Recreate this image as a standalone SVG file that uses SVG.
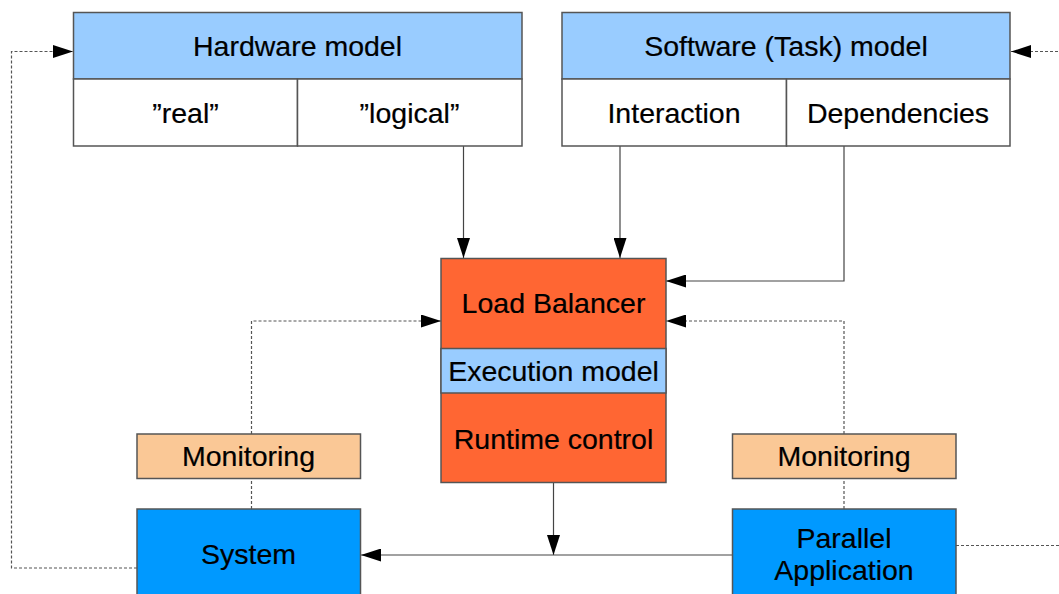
<svg xmlns="http://www.w3.org/2000/svg" width="1059" height="594" viewBox="0 0 1059 594">
  <defs>
    <marker id="arrow" markerUnits="userSpaceOnUse" markerWidth="20" markerHeight="13" refX="20" refY="6.5" orient="auto">
      <path d="M0,0 L20,6.5 L0,13 z" fill="#000"/>
    </marker>
    <style>
      text { font-family: "Liberation Sans", Arial, sans-serif; font-size: 28.5px; fill: #000; stroke: #000; stroke-width: 0.2; text-anchor: middle; }
      .box { stroke: #555; stroke-width: 1.5; }
      .header { fill: #99ccff; }
      .cell { fill: #ffffff; }
      .lb { fill: #ff6633; }
      .mon { fill: #fac896; }
      .actor { fill: #0099ff; }
      .solid { fill: none; stroke: #444; stroke-width: 1.2; }
      .dash { fill: none; stroke: #555; stroke-width: 1.2; stroke-dasharray: 3 2; }
    </style>
  </defs>
  <rect width="1059" height="594" fill="#fff"/>

  <!-- connectors -->
  <g id="connectors">
    <path class="solid" d="M463.5,146 V258" marker-end="url(#arrow)"/>
    <path class="solid" d="M620,146 V258" marker-end="url(#arrow)"/>
    <path class="solid" d="M844,146 V281 H666" marker-end="url(#arrow)"/>
    <path class="solid" d="M553.5,482 V555" marker-end="url(#arrow)"/>
    <path class="solid" d="M732,555 H361" marker-end="url(#arrow)"/>
    <path class="dash" d="M251.5,434 V321 H441" marker-end="url(#arrow)"/>
    <path class="dash" d="M251.5,509 V478"/>
    <path class="dash" d="M844,434 V321 H666" marker-end="url(#arrow)"/>
    <path class="dash" d="M844,509 V478"/>
    <path class="dash" d="M137,568 H11.5 V51.5 H73" marker-end="url(#arrow)"/>
    <path class="dash" d="M956,545.5 H1075 V51.5 H1011" marker-end="url(#arrow)"/>
  </g>

  <!-- hardware model -->
  <g id="hardware-model">
    <rect class="box header" x="73.5" y="12.5" width="448.5" height="66.5"/>
    <rect class="box cell" x="73.5" y="79" width="224" height="67"/>
    <rect class="box cell" x="297.5" y="79" width="224.5" height="67"/>
    <text x="297.5" y="55.5">Hardware model</text>
    <text x="185.5" y="122.5">”real”</text>
    <text x="409.5" y="122.5">”logical”</text>
  </g>

  <!-- software (task) model -->
  <g id="software-model">
    <rect class="box header" x="562" y="12.5" width="448" height="66.5"/>
    <rect class="box cell" x="562" y="79" width="224.5" height="67"/>
    <rect class="box cell" x="786.5" y="79" width="223.5" height="67"/>
    <text x="786" y="55.5">Software (Task) model</text>
    <text x="674" y="122.5">Interaction</text>
    <text x="898" y="122.5">Dependencies</text>
  </g>

  <!-- load balancer -->
  <g id="load-balancer">
    <rect class="box lb" x="441" y="258.5" width="225" height="224"/>
    <rect class="box header" x="441" y="348.5" width="225" height="44.5"/>
    <text x="553.5" y="312.5">Load Balancer</text>
    <text x="553.5" y="380.5">Execution model</text>
    <text x="553.5" y="448.5">Runtime control</text>
  </g>

  <!-- monitoring -->
  <g id="monitoring-system">
    <rect class="box mon" x="137" y="434" width="223.5" height="44.5"/>
    <text x="248.5" y="465.5">Monitoring</text>
  </g>
  <g id="monitoring-application">
    <rect class="box mon" x="732.5" y="434" width="223.5" height="44.5"/>
    <text x="844" y="465.5">Monitoring</text>
  </g>

  <!-- system and application -->
  <g id="system">
    <rect class="box actor" x="137" y="509" width="223.5" height="95"/>
    <text x="248.5" y="564">System</text>
  </g>
  <g id="parallel-application">
    <rect class="box actor" x="732.5" y="509" width="223.5" height="95"/>
    <text x="844" y="548">Parallel</text>
    <text x="844" y="580">Application</text>
  </g>
</svg>
